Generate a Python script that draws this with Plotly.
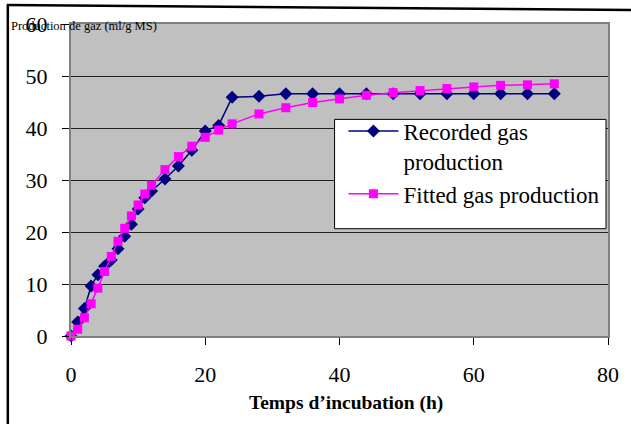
import plotly.graph_objects as go

hours = [0, 1, 2, 3, 4, 5, 6, 7, 8, 9, 10, 11, 12, 14, 16, 18, 20, 22, 24,
         28, 32, 36, 40, 44, 48, 52, 56, 60, 64, 68, 72]
recorded = [0, 2.7, 5.3, 9.6, 11.8, 13.4, 14.6, 16.8, 19.2, 21.5, 24.4, 26.6, 27.9,
            30.2, 32.7, 35.7, 39.4, 40.5, 45.9, 46.1, 46.6, 46.6, 46.6, 46.6,
            46.6, 46.6, 46.6, 46.6, 46.6, 46.6, 46.6]
fitted = [0, 1.3, 3.5, 6.2, 9.2, 12.4, 15.3, 18.2, 20.7, 23.1, 25.2, 27.3, 29.0,
          32.0, 34.5, 36.5, 38.2, 39.6, 40.8, 42.7, 43.9, 44.9, 45.6, 46.3,
          46.8, 47.2, 47.6, 47.9, 48.2, 48.3, 48.5]
x_ticks = [0, 20, 40, 60, 80]
y_ticks = [0, 10, 20, 30, 40, 50, 60]
names = ["Recorded gas<br>production", "Fitted gas production"]

W, H = 631, 424
L, R, T, B = 71, 16, 22, 88
pw, ph = W - L - R, H - T - B

def px(x):
    return (x - L) / pw

def py(y):
    return (H - B - y) / ph

serif = "Liberation Serif"

fig = go.Figure()
fig.add_trace(go.Scatter(
    x=hours, y=recorded, name=names[0], mode="lines+markers", cliponaxis=False,
    line=dict(color="#000080", width=1.5),
    marker=dict(symbol="diamond", size=10, color="#000080"),
))
fig.add_trace(go.Scatter(
    x=hours, y=fitted, name=names[1], mode="lines+markers", cliponaxis=False,
    line=dict(color="#FF00FF", width=1.5),
    marker=dict(symbol="square", size=9, color="#FF00FF"),
))

fig.update_layout(
    width=W, height=H,
    margin=dict(l=L, r=R, t=T, b=B),
    paper_bgcolor="white",
    plot_bgcolor="#C0C0C0",
    font=dict(family=serif, color="black"),
    showlegend=True,
    legend=dict(
        x=px(347), y=py(108), xanchor="left", yanchor="top",
        bgcolor="rgba(0,0,0,0)", borderwidth=0, valign="top",
        font=dict(family=serif, size=23, color="black"),
        itemwidth=50, tracegroupgap=0,
    ),
    xaxis=dict(
        range=[0, 80], tickvals=x_ticks, ticks="outside", ticklen=7,
        tickcolor="black", tickfont=dict(family=serif, size=22),
        ticklabelstandoff=11,
        showgrid=False, zeroline=False,
        showline=True, mirror=True, linecolor="#808080", linewidth=2,
    ),
    yaxis=dict(
        range=[0, 60], tickvals=y_ticks, ticks="outside", ticklen=7,
        tickcolor="black", tickfont=dict(family=serif, size=22),
        ticklabelstandoff=10,
        showgrid=True, gridcolor="#222222", gridwidth=1, zeroline=False,
        showline=True, mirror=True, linecolor="#808080", linewidth=2,
    ),
    shapes=[
        dict(type="rect", xref="paper", yref="paper",
             x0=px(338), x1=px(613), y0=py(228), y1=py(118),
             fillcolor="white", line=dict(color="black", width=1), layer="above"),
        dict(type="line", xref="paper", yref="paper",
             x0=px(7), x1=px(7), y0=py(3), y1=py(430),
             line=dict(color="black", width=2.5)),
        dict(type="line", xref="paper", yref="paper",
             x0=px(6), x1=px(640), y0=py(3), y1=py(8),
             line=dict(color="black", width=2.5)),
    ],
    annotations=[
        dict(text="Production de gaz (ml/g MS)", xref="paper", yref="paper",
             x=px(8), y=py(24), xanchor="left", yanchor="middle", showarrow=False,
             font=dict(family=serif, size=12.5, color="black")),
        dict(text="<b>Temps d’incubation (h)</b>", xref="paper", yref="paper",
             x=px(350), y=py(403), xanchor="center", yanchor="middle", showarrow=False,
             font=dict(family=serif, size=19.5, color="black")),
    ],
)

fig.write_html("out.html")
